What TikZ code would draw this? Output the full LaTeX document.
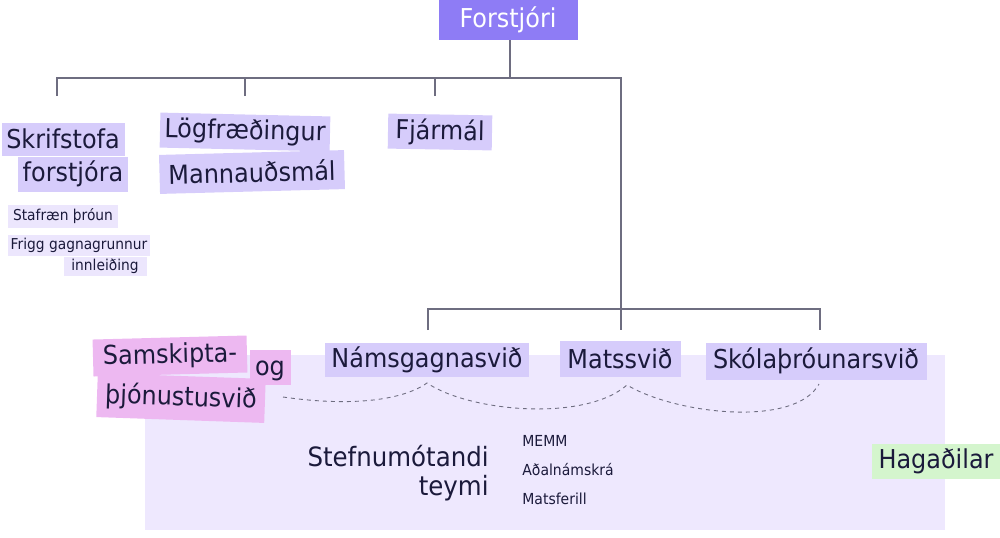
\documentclass[tikz,border=0pt]{standalone}
\usepackage{fontspec}
\setmainfont{DejaVu Sans}[FakeStretch=0.92]
\definecolor{ink}{HTML}{1B1A3B}
\definecolor{wire}{HTML}{6E6D80}
\definecolor{bossfill}{HTML}{8E7CF5}
\definecolor{lilac}{HTML}{D6CCFB}
\definecolor{palelilac}{HTML}{ECE6FD}
\definecolor{pinkish}{HTML}{EDB8F1}
\definecolor{teamfill}{HTML}{EEE8FE}
\definecolor{mint}{HTML}{D4F5CD}

\begin{document}
\begin{tikzpicture}[x=0.5pt, y=-0.5pt,
  tag/.style={fill=lilac, text=ink, font=\fontsize{13}{15}\selectfont, inner sep=0pt},
  smalltag/.style={fill=palelilac, text=ink, font=\fontsize{7.5}{9}\selectfont, inner sep=0pt},
  pinktag/.style={tag, fill=pinkish},
  wires/.style={draw=wire, line width=0.6pt}]
  \useasboundingbox (0,0) rectangle (1000,537);

  % Team area in the back
  \fill[teamfill] (145,355) rectangle (945,530);

  % Director
  \node[fill=bossfill, text=white, font=\fontsize{13}{15}\selectfont, inner sep=0pt,
        minimum width=69.5pt, minimum height=20pt] (boss) at (508,20) {Forstjóri};

  % Upper row
  \node[tag, minimum width=61.5pt, minimum height=16.5pt] (skrifA) at (63,139) {Skrifstofa};
  \node[tag, minimum width=55pt, minimum height=17.5pt] (skrifB) at (73,174) {forstjóra};
  \node[tag, minimum width=85pt, minimum height=17.5pt, rotate=-1.3] (log) at (245,132) {Lögfræðingur};
  \node[tag, minimum width=92.5pt, minimum height=19.5pt, rotate=1.5] (mann) at (252,172) {Mannauðsmál};
  \node[tag, minimum width=52pt, minimum height=17.5pt, rotate=-1] (fjar) at (440,132) {Fjármál};

  % Under the office
  \node[smalltag, minimum width=55pt, minimum height=11.5pt] (staf) at (63,216) {Stafræn þróun};
  \node[smalltag, minimum width=71pt, minimum height=10.5pt] (frigg) at (79,245) {Frigg gagnagrunnur};
  \node[smalltag, minimum width=41.5pt, minimum height=9.5pt] (innl) at (105,266) {innleiðing};

  % Lower row
  \node[pinktag, minimum width=77pt, minimum height=18.5pt, rotate=1.5] (samA) at (170,356) {Samskipta-};
  \node[pinktag, minimum width=20.5pt, minimum height=17.5pt, text height=8.5pt, text depth=0pt] (og) at (270,367) {og};
  \node[pinktag, minimum width=84pt, minimum height=22pt, rotate=-2] (samB) at (181,398) {þjónustusvið};
  \node[tag, minimum width=102pt, minimum height=17pt] (nams) at (427,360) {Námsgagnasvið};
  \node[tag, minimum width=60.5pt, minimum height=18pt] (mats) at (620,359) {Matssvið};
  \node[tag, minimum width=110.5pt, minimum height=18.5pt] (skola) at (816,361) {Skólaþróunarsvið};

  % Team and stakeholders
  \node[text=ink, font=\fontsize{13.3}{14.5}\selectfont, align=right, inner sep=0pt,
        anchor=north east] (stef) at (489,445) {Stefnumótandi\\teymi};
  \node[text=ink, font=\fontsize{7.6}{9}\selectfont, anchor=west, inner sep=0pt] (memm) at (522,441) {MEMM};
  \node[text=ink, font=\fontsize{7.6}{9}\selectfont, anchor=west, inner sep=0pt] (adal) at (522,470) {Aðalnámskrá};
  \node[text=ink, font=\fontsize{7.6}{9}\selectfont, anchor=west, inner sep=0pt] (matsf) at (522,499) {Matsferill};
  \node[fill=mint, text=ink, font=\fontsize{13}{15}\selectfont, inner sep=0pt,
        minimum width=64pt, minimum height=17.5pt] (haga) at (936,461) {Hagaðilar};

  % Tree joints
  \coordinate (top) at (510,78);
  \coordinate (topL) at (57,78);
  \coordinate (topR) at (621,78);
  \coordinate (dropA) at (57,96);
  \coordinate (dropB) at (245,96);
  \coordinate (dropC) at (435,96);
  \coordinate (lowL) at (428,309);
  \coordinate (lowR) at (820,309);
  \coordinate (dropN) at (428,330);
  \coordinate (dropM) at (621,330);
  \coordinate (dropS) at (820,330);

  % Lines of the tree
  \draw[wires] (boss.south -| top) -- (top);
  \draw[wires] (dropA) -- (topL) -- (topR) -- (dropM);
  \draw[wires] (dropB) -- (dropB |- topL);
  \draw[wires] (dropC) -- (dropC |- topL);
  \draw[wires] (dropN) -- (lowL) -- (lowR) -- (dropS);

  % Dotted links under the units
  \coordinate (dotA) at (283,397);
  \coordinate (cuspN) at (427,383);
  \coordinate (cuspM) at (627,385);
  \coordinate (cuspS) at (819,384);
  \draw[wire, dash pattern=on 2pt off 2pt, line width=0.45pt]
    (dotA) .. controls (345,406) and (400,402) .. (cuspN)
           .. controls (470,412) and (585,422) .. (cuspM)
           .. controls (675,414) and (795,428) .. (cuspS);
\end{tikzpicture}
\end{document}
